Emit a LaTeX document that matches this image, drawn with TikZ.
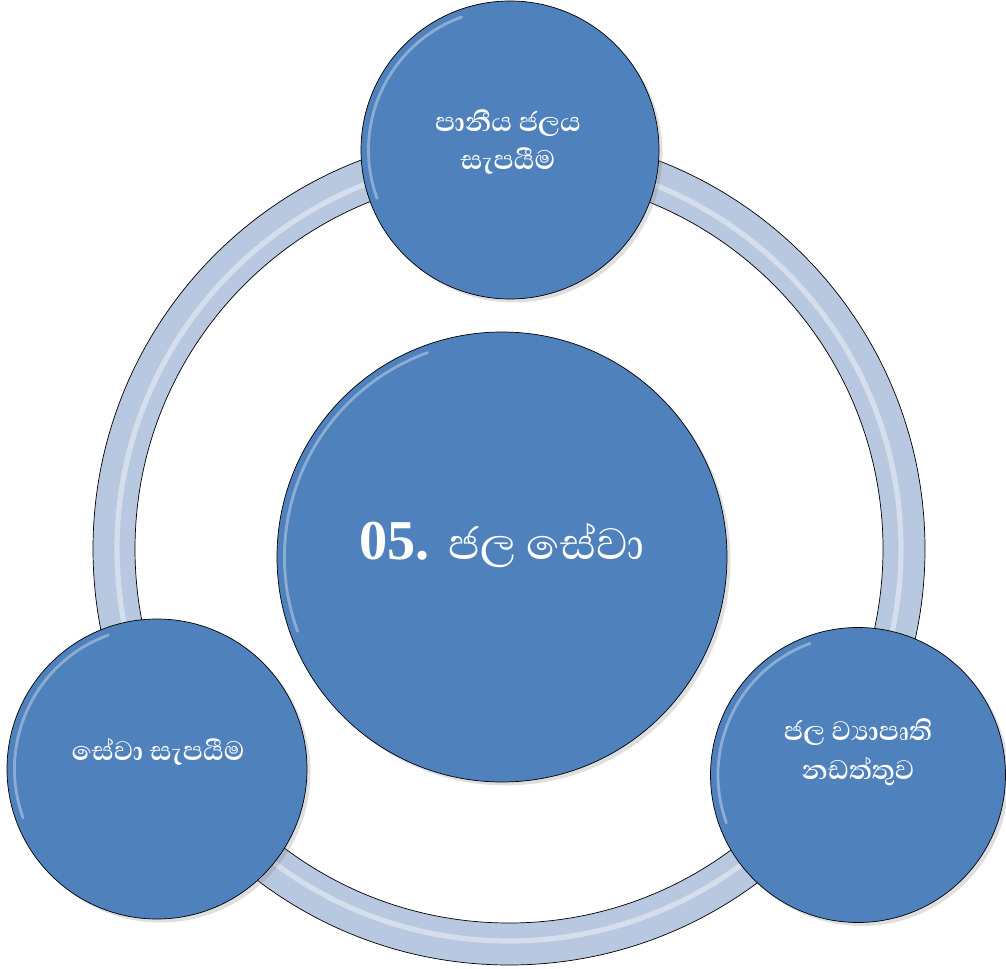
\documentclass[tikz,border=0pt]{standalone}
\usepackage{fontspec}
\setmainfont{Liberation Serif}
\newfontfamily\sinhala[Script=Sinhala]{Abhaya Libre}
\usetikzlibrary{shadows}
\definecolor{bubblefill}{HTML}{4F81BD}
\definecolor{ringfill}{HTML}{B8C8E0}
\begin{document}
\begin{tikzpicture}[
    bubble/.style={circle, draw=black, thin, fill=bubblefill, text=white, align=center, inner sep=0pt,
      drop shadow={opacity=0.25, shadow xshift=0.07cm, shadow yshift=-0.07cm}},
    glow/.style={white, opacity=0.35, line width=1.6pt, line cap=round},
    caption/.style={text=white, align=center, font=\sinhala\bfseries\fontsize{19.5}{22}\selectfont}
  ]
  \useasboundingbox (0,0) rectangle (20.12,-19.38);

  % the ring
  \coordinate (hub) at (10.18,-10.98);
  \fill[ringfill, even odd rule] (hub) circle (8.32) (hub) circle (7.48);
  \draw[white, opacity=0.4, line width=3pt] (hub) circle (7.84);
  \draw[thin] (hub) circle (8.32);
  \draw[thin] (hub) circle (7.48);

  % circles
  \node[bubble, minimum size=9.0cm] (water) at (10.04,-11.14) {};
  \node[bubble, minimum size=5.96cm] (supply) at (10.2,-3.0) {};
  \node[bubble, minimum size=6.0cm] (service) at (3.14,-15.38) {};
  \node[bubble, minimum size=5.9cm] (upkeep) at (17.16,-15.5) {};

  % bevel highlights
  \foreach \n/\r in {water/4.5, supply/2.98, service/3.0, upkeep/2.95}
    \draw[glow] ([shift={(110:\r-0.15)}]\n.center) arc (110:200:\r-0.15);

  % labels
  \node[caption] (supplytext) at (10.16,-2.84) {පානීය ජලය\\සැපයීම};
  \node[text=white, font=\fontsize{32}{38}\selectfont] (watertext) at (10.04,-10.9) {\textbf{05.} {\sinhala ජල සේවා}};
  \node[caption] (servicetext) at (3.16,-15.04) {සේවා සැපයීම};
  \node[caption] (upkeeptext) at (17.16,-15.05) {ජල ව්‍යාපෘති\\නඩත්තුව};
\end{tikzpicture}
\end{document}
